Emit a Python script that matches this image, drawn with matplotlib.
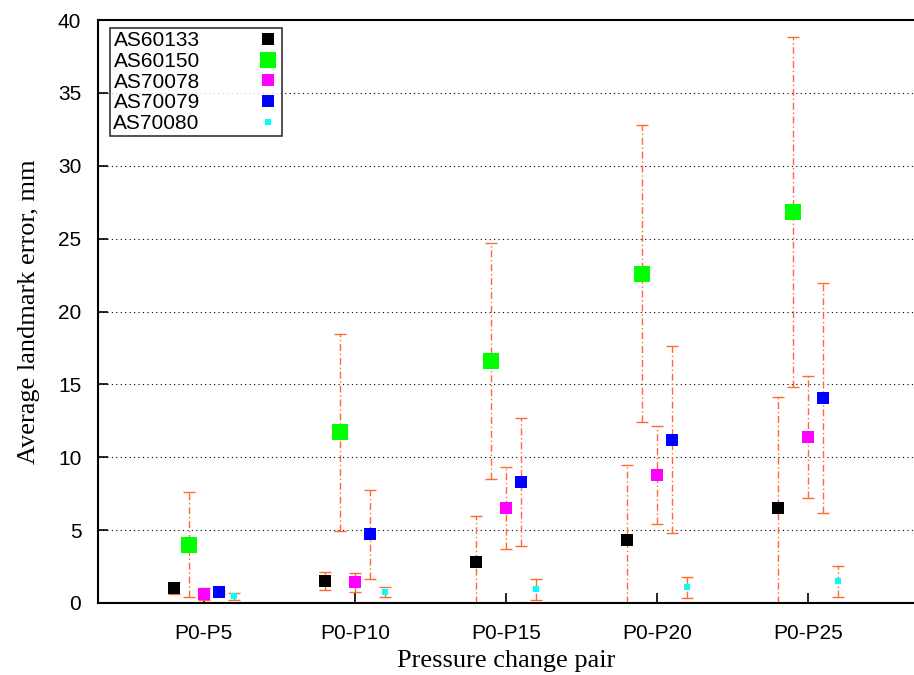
import numpy as np
import matplotlib
matplotlib.use("Agg")
import matplotlib.pyplot as plt

# Pressure change pairs on the x axis
pairs = ["P0-P5", "P0-P10", "P0-P15", "P0-P20", "P0-P25"]

# Mean landmark error (mm) and error bar half-widths per specimen
as60133     = [1.0, 1.5, 2.8, 4.3, 6.5]
as60133_err = [0.4, 0.6, 3.15, 5.2, 7.6]
as60150     = [4.0, 11.7, 16.6, 22.6, 26.8]
as60150_err = [3.6, 6.75, 8.1, 10.2, 12.0]
as70078     = [0.6, 1.43, 6.5, 8.8, 11.4]
as70078_err = [0.4, 0.65, 2.8, 3.37, 4.2]
as70079     = [0.73, 4.7, 8.3, 11.2, 14.05]
as70079_err = [0.1, 3.07, 4.37, 6.43, 7.9]
as70080     = [0.46, 0.75, 0.94, 1.07, 1.5]
as70080_err = [0.25, 0.37, 0.73, 0.73, 1.06]

series = [
    ("AS60133", as60133, as60133_err, "black", 8),
    ("AS60150", as60150, as60150_err, "#00ff00", 12),
    ("AS70078", as70078, as70078_err, "#ff00ff", 8),
    ("AS70079", as70079, as70079_err, "#0000ff", 8),
    ("AS70080", as70080, as70080_err, "#00ffff", 5),
]
offsets = [-0.2, -0.1, 0.0, 0.1, 0.2]
err_color = "#ff6a33"

fig = plt.figure(figsize=(9.14, 6.75), dpi=100)
ax = fig.add_axes([98 / 914, 1 - 603 / 675, 1 - 98 / 914, (603 - 20) / 675])

x = np.arange(1, len(pairs) + 1)
for (name, vals, errs, col, ms), off in zip(series, offsets):
    vals = np.array(vals)
    errs = np.array(errs)
    lo = np.minimum(errs, vals)  # clip lower whisker at zero
    eb = ax.errorbar(x + off, vals, yerr=[lo, errs], fmt="none", ecolor=err_color,
                     elinewidth=1.0, capsize=4, capthick=1.0, zorder=2)
    for art in eb[2]:
        art.set_linestyle((0, (5, 2, 1, 2)))
    ax.plot(x + off, vals, "s", color=col, markersize=ms, markeredgewidth=0,
            linestyle="none", label=name, zorder=3)

ax.set_xlim(0.3, 5.7)
ax.set_ylim(0, 40)
ax.set_xticks(x)
ax.set_xticklabels(pairs)
ax.set_yticks(np.arange(0, 41, 5))
for yv in range(5, 40, 5):
    ax.axhline(yv, color="black", linestyle=(0, (1, 3)), linewidth=0.8, zorder=1)

ax.tick_params(direction="in", length=7, width=1.2, labelsize=15)
ax.tick_params(axis="y", right=False, pad=12)
ax.tick_params(axis="x", top=False, pad=15)
for lab in ax.get_xticklabels() + ax.get_yticklabels():
    lab.set_fontfamily("Liberation Sans")
ax.spines["right"].set_visible(False)
for s in ["left", "bottom", "top"]:
    ax.spines[s].set_linewidth(1.5)

ax.set_xlabel("Pressure change pair", fontsize=19, fontfamily="Liberation Serif", labelpad=5)
ax.set_ylabel("Average landmark error, mm", fontsize=19, fontfamily="Liberation Serif", labelpad=13)

leg = ax.legend(loc="upper left", bbox_to_anchor=(0.015, 0.986), markerfirst=False,
                prop={"family": "Liberation Sans", "size": 15}, frameon=True, fancybox=False,
                borderpad=0.15, labelspacing=0.08, handletextpad=2.8, borderaxespad=0,
                handlelength=1.0)
leg.get_frame().set_edgecolor("black")
leg.get_frame().set_linewidth(1.2)

fig.savefig("out.png", dpi=100)
